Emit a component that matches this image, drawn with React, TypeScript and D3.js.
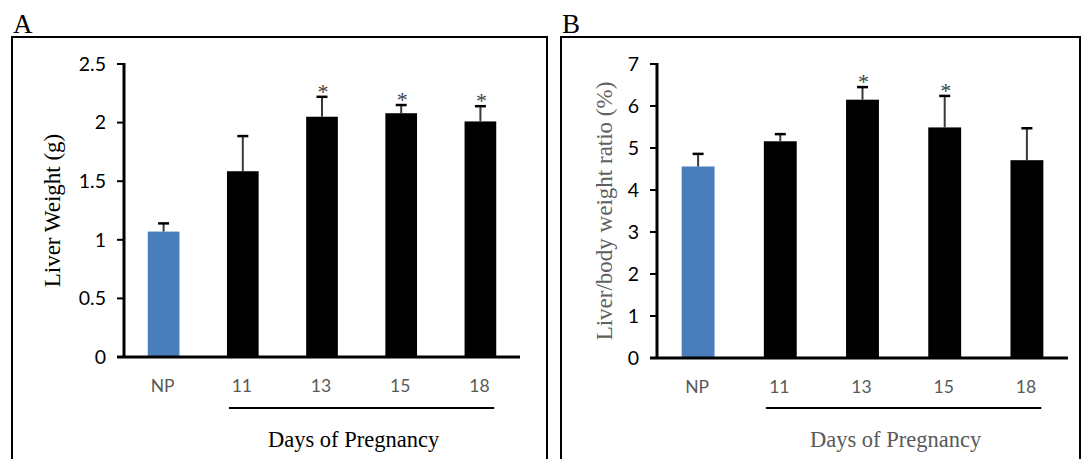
import React from 'react';
import * as d3 from 'd3';

// categories on the x axis (NP = non-pregnant, rest = days of pregnancy)
const categories = ['NP', '11', '13', '15', '18'];

// panel A: liver weight (g)
const liverWeight = [1.07, 1.585, 2.05, 2.08, 2.01];
const liverWeightErr = [0.07, 0.3, 0.17, 0.07, 0.13];
const liverWeightSig = [false, false, true, true, true];
const liverWeightTicks = [0, 0.5, 1, 1.5, 2, 2.5];

// panel B: liver/body weight ratio (%)
const ratio = [4.56, 5.16, 6.15, 5.49, 4.71];
const ratioErr = [0.3, 0.17, 0.3, 0.75, 0.76];
const ratioSig = [false, false, true, true, false];
const ratioTicks = [0, 1, 2, 3, 4, 5, 6, 7];

const SERIF = '"Liberation Serif", "DejaVu Serif", serif';
const SANS = 'Lato, "Open Sans", sans-serif';

type PanelProps = {
  label: string;
  box: [number, number]; // left, right
  axisX: [number, number];
  axisY: [number, number]; // bottom, top
  values: number[];
  errs: number[];
  sig: boolean[];
  ticks: number[];
  yTitle: string;
  yTitleX: number;
  yTitleColor: string;
  xTitleColor: string;
  tickLabelColor: string;
};

const Panel = (p: PanelProps) => {
  const x = d3.scaleBand<string>().domain(categories).range(p.axisX).paddingInner(0.6).paddingOuter(0.3);
  const y = d3.scaleLinear().domain([0, d3.max(p.ticks) as number]).range(p.axisY);
  const bw = x.bandwidth();
  const underX0 = (x('11') as number) + 2;
  const underX1 = (x('18') as number) + bw - 2;
  const xTitleX = (underX0 + underX1) / 2 - 8;

  return (
    <g>
      <text x={p.box[0] + 1} y={33} fontFamily={SERIF} fontSize={27} fill="#000">{p.label}</text>
      <rect x={p.box[0]} y={37} width={p.box[1] - p.box[0]} height={440} fill="none" stroke="#000" strokeWidth={2} />

      {/* bars */}
      {p.values.map((v, i) => (
        <rect key={'b' + i}
          x={x(categories[i])}
          y={y(v)}
          width={bw}
          height={y(0) - y(v)}
          fill={i === 0 ? '#4a7ebb' : '#000'} />
      ))}

      {/* error bars */}
      {p.values.map((v, i) => {
        const cx = (x(categories[i]) as number) + bw / 2;
        const top = y(v + p.errs[i]);
        return (
          <g key={'e' + i}>
            <line x1={cx} x2={cx} y1={y(v)} y2={top} stroke="#3a3a3a" strokeWidth={2} />
            <line x1={cx - 5.5} x2={cx + 5.5} y1={top} y2={top} stroke="#000" strokeWidth={2.5} />
            {p.sig[i] && (
              <text x={cx + 1} y={top + 2} textAnchor="middle" fontFamily={SERIF} fontSize={22} fill="#404040">*</text>
            )}
          </g>
        );
      })}

      {/* y axis */}
      <line x1={p.axisX[0]} x2={p.axisX[0]} y1={y(0)} y2={y(d3.max(p.ticks) as number) - 1} stroke="#000" strokeWidth={3} />
      {p.ticks.map((t) => (
        <g key={'t' + t}>
          <line x1={p.axisX[0] - 7} x2={p.axisX[0]} y1={y(t)} y2={y(t)} stroke="#000" strokeWidth={2} />
          <text x={p.axisX[0] - 18} y={y(t)} dy="0.35em" textAnchor="end" fontFamily={SANS} fontSize={19.5} fill={p.tickLabelColor}>{String(t)}</text>
        </g>
      ))}

      {/* x axis */}
      <line x1={p.axisX[0] - 7} x2={p.axisX[1]} y1={y(0)} y2={y(0)} stroke="#000" strokeWidth={3} />
      {categories.map((c) => (
        <text key={'c' + c} x={(x(c) as number) + bw / 2 - 1} y={y(0) + 35} textAnchor="middle" fontFamily={SANS} fontSize={17.5} fill="#595959">{c}</text>
      ))}
      <line x1={underX0} x2={underX1} y1={408} y2={408} stroke="#000" strokeWidth={2} />
      <text x={xTitleX} y={447} textAnchor="middle" fontFamily={SERIF} fontSize={22.5} fill={p.xTitleColor}>Days of Pregnancy</text>

      <text transform={`translate(${p.yTitleX},${(y(0) + y(d3.max(p.ticks) as number)) / 2}) rotate(-90)`}
        dy="0.35em" textAnchor="middle" fontFamily={SERIF} fontSize={23} fill={p.yTitleColor}>{p.yTitle}</text>
    </g>
  );
};

export default function App() {
  return (
    <svg width={1083} height={459} style={{ position: 'absolute', left: 0, top: 0, background: '#fff' }}>
      <rect width={1083} height={459} fill="#fff" />
      <Panel label="A" box={[12, 547]} axisX={[124, 520]} axisY={[357, 64]}
        values={liverWeight} errs={liverWeightErr} sig={liverWeightSig} ticks={liverWeightTicks}
        yTitle="Liver Weight (g)" yTitleX={52} yTitleColor="#000" xTitleColor="#000" tickLabelColor="#000" />
      <Panel label="B" box={[561, 1080]} axisX={[657, 1068]} axisY={[358, 64]}
        values={ratio} errs={ratioErr} sig={ratioSig} ticks={ratioTicks}
        yTitle="Liver/body weight ratio (%)" yTitleX={604} yTitleColor="#606060" xTitleColor="#595959" tickLabelColor="#000" />
    </svg>
  );
}
